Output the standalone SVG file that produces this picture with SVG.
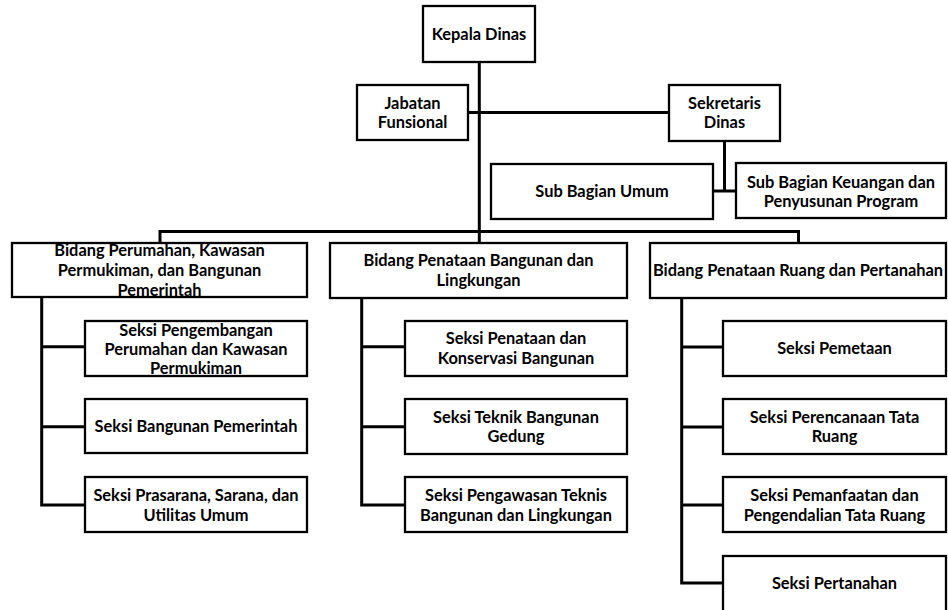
<svg xmlns="http://www.w3.org/2000/svg" width="948" height="610" viewBox="0 0 948 610">
<style>
  rect.box { fill: #ffffff; stroke: #000000; stroke-width: 2.3; }
  .conn { fill: none; stroke: #000000; stroke-width: 3; }
  text { font-family: Lato, "Open Sans", sans-serif; font-weight: bold; font-size: 16.4px; fill: #000000; text-anchor: middle; }
</style>
<rect width="948" height="610" fill="#ffffff"/>
<g id="connectors">
  <path class="conn" d="M479.3,62 V243"/>
  <path class="conn" d="M468,112.5 H669"/>
  <path class="conn" d="M724.5,141 V191"/>
  <path class="conn" d="M713,191 H736"/>
  <path class="conn" d="M160,243 V231.5 H798.5 V243"/>
  <path class="conn" d="M41.7,297 V505 H85 M41.7,346.7 H85 M41.7,426.7 H85"/>
  <path class="conn" d="M361.7,298 V505 H405 M361.7,346.7 H405 M361.7,426.7 H405"/>
  <path class="conn" d="M681.7,298 V583 H723 M681.7,347 H723 M681.7,427 H723 M681.7,505 H723"/>
</g>
<g id="kepala-dinas"><rect class="box" x="423" y="6" width="112" height="56"/><text x="479" y="39.8">Kepala Dinas</text></g>
<g id="jabatan-fungsional"><rect class="box" x="357" y="85" width="111" height="55"/><text x="412.5" y="108.8">Jabatan</text><text x="412.5" y="127.8">Funsional</text></g>
<g id="sekretaris-dinas"><rect class="box" x="669" y="85" width="111" height="56"/><text x="724.5" y="108.8">Sekretaris</text><text x="724.5" y="127.8">Dinas</text></g>
<g id="sub-bagian-umum"><rect class="box" x="491" y="164" width="222" height="55"/><text x="602" y="197.3">Sub Bagian Umum</text></g>
<g id="sub-bagian-keuangan"><rect class="box" x="736" y="163" width="210" height="55"/><text x="841" y="187.5">Sub Bagian Keuangan dan</text><text x="841" y="206.5">Penyusunan Program</text></g>
<g id="bidang-perumahan"><rect class="box" x="12" y="243" width="295" height="54"/><text x="159.5" y="255.8">Bidang Perumahan, Kawasan</text><text x="159.5" y="275.8">Permukiman, dan Bangunan</text><text x="159.5" y="295.8">Pemerintah</text></g>
<g id="bidang-penataan-bangunan"><rect class="box" x="330" y="243" width="297" height="55"/><text x="478.5" y="265.8">Bidang Penataan Bangunan dan</text><text x="478.5" y="285.8">Lingkungan</text></g>
<g id="bidang-penataan-ruang"><rect class="box" x="650" y="243" width="296" height="55"/><text x="798" y="275.8">Bidang Penataan Ruang dan Pertanahan</text></g>
<g id="seksi-pengembangan"><rect class="box" x="85" y="321" width="222" height="55"/><text x="196" y="335.8">Seksi Pengembangan</text><text x="196" y="354.8">Perumahan dan Kawasan</text><text x="196" y="374.1">Permukiman</text></g>
<g id="seksi-bangunan-pemerintah"><rect class="box" x="85" y="399" width="222" height="54"/><text x="196" y="431.5">Seksi Bangunan Pemerintah</text></g>
<g id="seksi-prasarana"><rect class="box" x="85" y="477" width="222" height="55"/><text x="196" y="500.8">Seksi Prasarana, Sarana, dan</text><text x="196" y="520.8">Utilitas Umum</text></g>
<g id="seksi-penataan-konservasi"><rect class="box" x="405" y="321" width="222" height="55"/><text x="516" y="344.1">Seksi Penataan dan</text><text x="516" y="363.5">Konservasi Bangunan</text></g>
<g id="seksi-teknik-bangunan"><rect class="box" x="405" y="399" width="222" height="55"/><text x="516" y="422.5">Seksi Teknik Bangunan</text><text x="516" y="441.8">Gedung</text></g>
<g id="seksi-pengawasan"><rect class="box" x="405" y="477" width="222" height="55"/><text x="516" y="500.8">Seksi Pengawasan Teknis</text><text x="516" y="520.8">Bangunan dan Lingkungan</text></g>
<g id="seksi-pemetaan"><rect class="box" x="723" y="321" width="223" height="55"/><text x="834.5" y="353.5">Seksi Pemetaan</text></g>
<g id="seksi-perencanaan"><rect class="box" x="723" y="399" width="223" height="55"/><text x="834.5" y="422.5">Seksi Perencanaan Tata</text><text x="834.5" y="441.8">Ruang</text></g>
<g id="seksi-pemanfaatan"><rect class="box" x="723" y="477" width="223" height="55"/><text x="834.5" y="500.8">Seksi Pemanfaatan dan</text><text x="834.5" y="520.8">Pengendalian Tata Ruang</text></g>
<g id="seksi-pertanahan"><rect class="box" x="723" y="556" width="223" height="56"/><text x="834.5" y="588.8">Seksi Pertanahan</text></g>
</svg>
